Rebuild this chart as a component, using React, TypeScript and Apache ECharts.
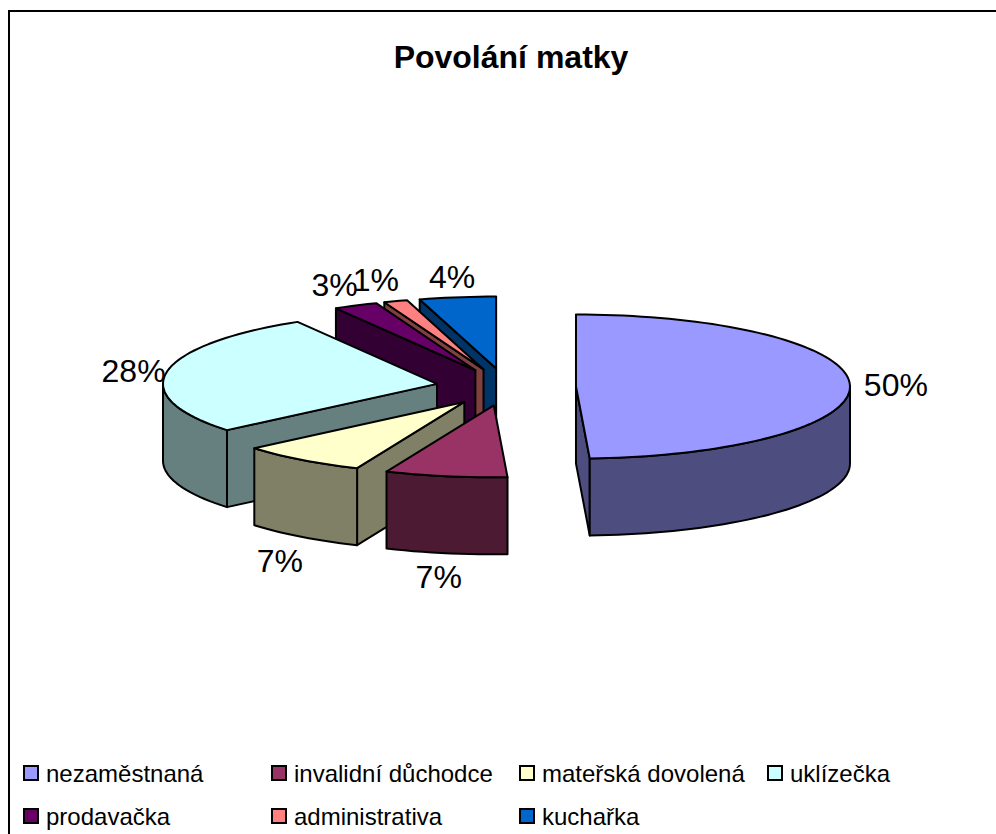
import React, { useEffect, useRef } from "react";
import * as echarts from "echarts";

const TITLE = "Povolání matky";
const categories = ["nezaměstnaná", "invalidní důchodce", "mateřská dovolená", "uklízečka", "prodavačka", "administrativa", "kuchařka"];
const shares = [49.2, 7.2, 7.5, 27.6, 2.6, 1.4, 4.5];
// The percentages printed beside the slices.
const percentLabels = ["50%", "7%", "7%", "28%", "3%", "1%", "4%"];

const topColors = ["#9999FF", "#993366", "#FFFFCC", "#CCFFFF", "#660066", "#FF8080", "#0066CC"];
const sideColors = ["#4D4D80", "#4D1A33", "#808066", "#668080", "#330033", "#804040", "#003366"];
const labelNudge = [[0, 1], [1, 0], [6, 4], [12, 3], [-1, -2], [-5, -1], [1, 0]];

const FONT = '"Liberation Sans", Arial, sans-serif';
const CX = 506;
const CY = 387;
const RX = 274;
const RY = 72;
const DEPTH = 77;
const EXPLODE_X = 70;
const EXPLODE_Y = 18.6;
const LINE = 2;
const STROKE = "#000";

const total = shares.reduce((a, b) => a + b, 0);
const rad = (d: number) => (d * Math.PI) / 180;

function arcPoints(ax: number, ay: number, a0: number, a1: number) {
  const pts: number[][] = [];
  const n = Math.max(2, Math.ceil(Math.abs(a1 - a0) / 2));
  for (let i = 0; i <= n; i++) {
    const a = rad(a0 + ((a1 - a0) * i) / n);
    pts.push([ax + RX * Math.sin(a), ay - RY * Math.cos(a)]);
  }
  return pts;
}

function sliceRenderer(index: number) {
  return (_params: any, api: any) => {
    const before = shares.slice(0, index).reduce((a, b) => a + b, 0);
    const a0 = (before / total) * 360;
    const a1 = a0 + (api.value(0) / total) * 360;
    const mid = rad((a0 + a1) / 2);
    const ax = CX + EXPLODE_X * Math.sin(mid);
    const ay = CY - EXPLODE_Y * Math.cos(mid);
    const side = sideColors[index];
    const faceStyle = (fill: string) => ({ fill, stroke: STROKE, lineWidth: LINE, lineJoin: "round" });
    const children: any[] = [];

    const wall = (a: number) => {
      const [p] = arcPoints(ax, ay, a, a);
      children.push({
        type: "polygon",
        shape: { points: [[ax, ay], p, [p[0], p[1] + DEPTH], [ax, ay + DEPTH]] },
        style: faceStyle(side),
      });
    };
    if (Math.sin(rad(a1)) > 0) wall(a1);
    if (Math.sin(rad(a0)) < -1e-6) wall(a0);

    const r0 = Math.max(a0, 90);
    const r1 = Math.min(a1, 270);
    if (r1 > r0) {
      const upper = arcPoints(ax, ay, r0, r1);
      const lower = upper.map(([x, y]) => [x, y + DEPTH]).reverse();
      children.push({ type: "polygon", shape: { points: [...upper, ...lower] }, style: faceStyle(side) });
    }

    children.push({
      type: "polygon",
      shape: { points: [[ax, ay], ...arcPoints(ax, ay, a0, a1)] },
      style: faceStyle(topColors[index]),
    });

    const c = Math.cos(mid);
    const lx = ax + 320 * Math.sin(mid) + labelNudge[index][0];
    const ly = ay - 93 * c + (c < 0 ? 80 : 0) + labelNudge[index][1];
    children.push({
      type: "text",
      z2: 100,
      style: {
        x: lx,
        y: ly,
        text: percentLabels[index],
        fill: "#000",
        font: `32px ${FONT}`,
        align: "center",
        verticalAlign: "middle",
      },
    });
    return { type: "group", children };
  };
}

const legendColumns = [
  { left: 23, names: [categories[0], categories[4]] },
  { left: 271, names: [categories[1], categories[5]] },
  { left: 519, names: [categories[2], categories[6]] },
  { left: 767, names: [categories[3]] },
];

export default function App() {
  const ref = useRef<HTMLDivElement>(null);
  useEffect(() => {
    const chart = echarts.init(ref.current!, undefined, { renderer: "svg" });
    chart.setOption({
      animation: false,
      backgroundColor: "#fff",
      title: {
        text: TITLE,
        left: 506,
        top: 36,
        textAlign: "center",
        textStyle: { fontFamily: FONT, fontSize: 32, fontWeight: "bold", color: "#000" },
      },
      legend: legendColumns.map((col) => ({
        left: col.left,
        top: 761,
        height: 73,
        padding: 0,
        orient: "vertical",
        align: "left",
        itemWidth: 14,
        itemHeight: 14,
        itemGap: 19,
        icon: "rect",
        selectedMode: false,
        textStyle: { fontFamily: FONT, fontSize: 24, color: "#000", padding: [0, 0, 0, 3] },
        data: col.names.map((name) => {
          const i = categories.indexOf(name);
          return {
            name,
            icon: "rect",
            itemStyle: { color: topColors[i], borderColor: "#000", borderWidth: 2 },
          };
        }),
      })),
      graphic: [
        {
          type: "polyline",
          silent: true,
          z: -1,
          shape: { points: [[9, 834], [9, 11], [996, 11]] },
          style: { fill: "none", stroke: "#000", lineWidth: 2 },
        },
      ],
      series: categories
        .map((name, i) => ({
          type: "custom",
          name,
          coordinateSystem: "none",
          silent: true,
          itemStyle: { color: topColors[i] },
          data: [[shares[i]]],
          renderItem: sliceRenderer(i),
        }))
        .reverse(),
    });
    return () => chart.dispose();
  }, []);
  return <div ref={ref} style={{ position: "fixed", left: 0, top: 0, width: 996, height: 834 }} />;
}
